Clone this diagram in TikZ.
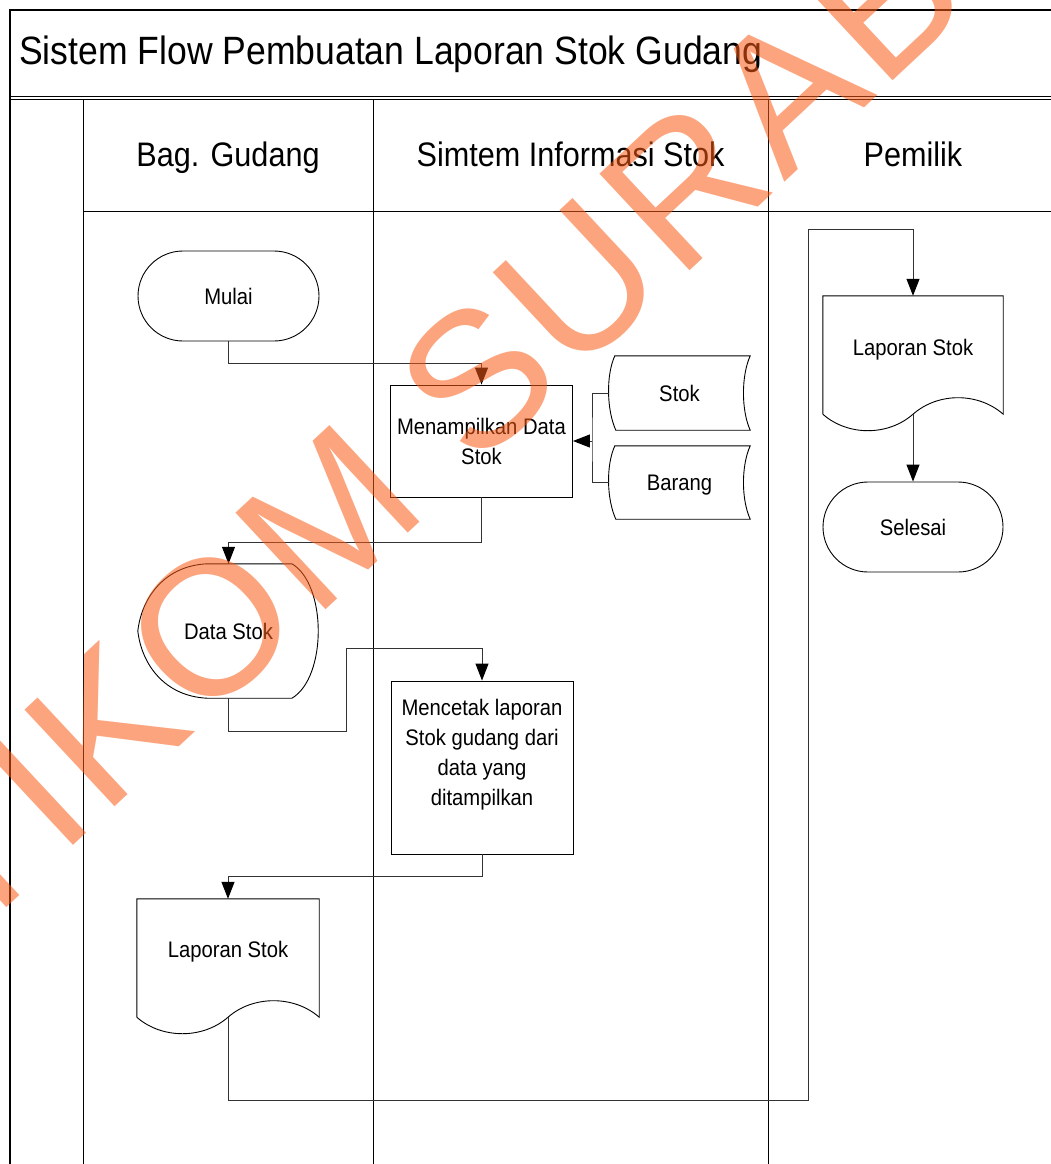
\documentclass[tikz,border=0pt]{standalone}
\usepackage{fontspec}
\setmainfont{Liberation Sans}[FakeStretch=0.9]
\newfontfamily\wmfont{Liberation Sans}[LetterSpace=3]
\usetikzlibrary{arrows.meta}
\definecolor{wm}{RGB}{250,90,20}
\definecolor{cn}{RGB}{50,50,50}
\begin{document}
\begin{tikzpicture}[x=1pt,y=-1pt,
  frame/.style={line width=1.3pt,black},
  lane/.style={line width=1pt,black},
  conn/.style={line width=1pt,cn},
  arr/.style={conn,-{Triangle[length=17pt,width=13pt,color=black,fill=black]}},
  outl/.style={line width=0.9pt,black},
  nd/.style={inner sep=0pt,font=\fontsize{22.5}{30}\selectfont,align=center},
  one/.style={nd,text height=16pt,text depth=0pt},
  holder/.style={draw=none,inner sep=0pt,minimum width=#1},
  term/.style={one,draw,outl,rounded corners=45pt,minimum width=181pt,minimum height=90pt},
  proc/.style={nd,draw,outl,minimum width=182pt},
  lanehead/.style={inner sep=0pt,anchor=base,font=\fontsize{34}{40}\selectfont}
]
\useasboundingbox (0,0) rectangle (1051,1164);
\clip (0,0) rectangle (1051,1164);
\fill[white] (0,0) rectangle (1051,1164);

% frame and lanes
\draw[frame] (1070,10) -- (10,10) -- (10,1180);
\draw[frame] (10,96.7) -- (1070,96.7);
\draw[frame] (10,99.5) -- (1070,99.5);
\draw[lane] (83,211) -- (1070,211);
\draw[lane] (83,99.5) -- (83,1180);
\draw[lane] (373,99.5) -- (373,1180);
\draw[lane] (768,99.5) -- (768,1180);

\node[inner sep=0pt,anchor=base west,font=\fontsize{39.5}{45}\selectfont] (title) at (19,65) {Sistem Flow Pembuatan Laporan Stok Gudang};
\node[lanehead] (h1) at (228,166.5) {Bag. Gudang};
\node[lanehead] (h2) at (570.5,166.5) {Simtem Informasi Stok};
\node[lanehead] (h3) at (913,166.5) {Pemilik};

% nodes
\node[term] (mulai) at (228.5,296) {Mulai};
\node[proc,minimum height=112pt] (tampil) at (481.5,441) {Menampilkan Data\\Stok};
\node[one,holder=141pt,minimum height=74pt] (stok) at (679.5,393) {Stok};
\node[one,holder=141pt,minimum height=73pt] (barang) at (679.5,482.5) {Barang};
\node[one,holder=181pt,minimum height=134pt] (dstok) at (228.5,631) {Data Stok};
\node[proc,minimum height=173pt] (cetak) at (482,767.5) {Mencetak laporan\\Stok gudang dari\\data yang\\ditampilkan\\\mbox{}};
\node[holder=182pt,minimum height=118pt] (lapA) at (228,958) {};
\node[one] (lapAt) at (228,949) {Laporan Stok};
\node[holder=180pt,minimum height=118pt] (lapB) at (913,355) {};
\node[one] (lapBt) at (913,347) {Laporan Stok};
\node[term,minimum width=180pt] (selesai) at (913,527) {Selesai};

% stored data shapes
\foreach \n in {stok,barang}{
  \draw[outl] ([xshift=6pt]\n.north west) -- (\n.north east)
    .. controls +(-9,20) and +(-9,-20) .. (\n.south east)
    -- ([xshift=7pt]\n.south west)
    .. controls +(-9,-20) and +(-9,20) .. ([xshift=6pt]\n.north west) -- cycle;
}
% display shape
\draw[outl] ([xshift=-21.5pt]dstok.north) -- ([xshift=63.5pt]dstok.north)
  .. controls +(35,21) and +(35,-21) .. ([xshift=63.5pt]dstok.south)
  -- ([xshift=-21.5pt]dstok.south)
  .. controls +(-42,-2) and +(4,34) .. (dstok.west)
  .. controls +(4,-34) and +(-42,2) .. ([xshift=-21.5pt]dstok.north) -- cycle;
% documents
\foreach \n in {lapA,lapB}{
  \draw[outl] (\n.south west) -- (\n.north west) -- (\n.north east) -- (\n.south east)
    .. controls +(-25,-22) and +(25,-22) .. (\n.south)
    .. controls +(-25,22) and +(25,22) .. (\n.south west);
}

% connectors
\coordinate (jn) at (592,441);
\coordinate (w1) at (346,731);
\coordinate (w2) at (346,648);
\coordinate (w3) at (808,1100);
\coordinate (w4) at (808,229);
\draw[arr] (mulai.south) -- ++(0,22) -| (tampil.north);
\draw[arr] (tampil.south) -- ++(0,45) -| (dstok.north);
\draw[conn] (stok.west) -| (jn) |- (barang.west);
\draw[arr] (jn) -- (tampil.east);
\draw[arr] (dstok.south) |- (w1) -- (w2) -| (cetak.north);
\draw[arr] (cetak.south) -- ++(0,22) -| (lapA.north);
\draw[arr] (lapA.south) |- (w3) -- (w4) -| (lapB.north);
\draw[arr] (lapB.south) -- (selesai.north);

% watermark
\node[rotate=43,text=wm,opacity=0.55,inner sep=0pt,font=\wmfont\fontsize{192}{192}\selectfont] (wmark) at (515.4,342.8) {STIKOM SURABAYA};
\end{tikzpicture}
\end{document}
